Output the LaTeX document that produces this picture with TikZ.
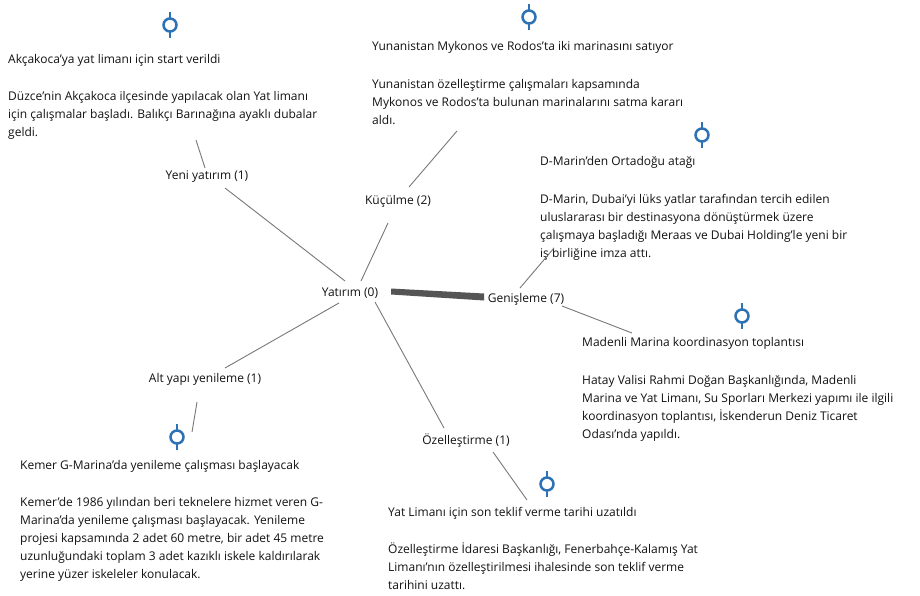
\documentclass[tikz,border=0pt]{standalone}
\usepackage{fontspec}
\setmainfont{Open Sans}
\usetikzlibrary{calc}

\definecolor{ink}{RGB}{18,18,18}
\definecolor{wire}{RGB}{120,120,120}
\definecolor{pinblue}{RGB}{46,114,182}
\definecolor{band}{RGB}{85,85,85}

% several lines stacked, baseline at the first line
\newcommand{\stack}[1]{\begin{tabular}[t]{@{}l@{}}#1\end{tabular}}

\tikzset{
  txt/.style={anchor=base west, inner sep=0pt, text=ink,
    font=\fontsize{12}{18}\selectfont},
  cat/.style={inner sep=0pt, text=ink, font=\fontsize{12}{18}\selectfont},
  wirestyle/.style={draw=wire, line width=0.9pt},
  pinline/.style={draw=pinblue, line width=2.5pt},
}
% event marker: a short vertical stem with a hollow ring
\newcommand{\eventpin}[2]{%
  \coordinate (#1) at (#2);
  \draw[pinline] ($(#1)+(0,-13)$) -- ($(#1)+(0,-6.5)$);
  \draw[pinline] ($(#1)+(0,6.5)$) -- ($(#1)+(0,13)$);
  \draw[pinline] (#1) circle[radius=6.5];
}

\begin{document}
\begin{tikzpicture}[x=1pt, y=-1pt]
\useasboundingbox[fill=white] (0,0) rectangle (920,595);

% ---- event pins ----
\eventpin{pinA}{170,25}
\eventpin{pinB}{529,17}
\eventpin{pinC}{702,135}
\eventpin{pinD}{742,316}
\eventpin{pinE}{177,437}
\eventpin{pinF}{547,484}

% ---- news items ----
\node[txt] (titleA) at (8,63) {Akçakoca'ya yat limanı için start verildi};
\node[txt] (bodyA) at (8,100) {\stack{Düzce'nin Akçakoca ilçesinde yapılacak olan Yat limanı\\
  için çalışmalar başladı. Balıkçı Barınağına ayaklı dubalar\\ geldi.}};

\node[txt] (titleB) at (372,50) {Yunanistan Mykonos ve Rodos'ta iki marinasını satıyor};
\node[txt] (bodyB) at (372,88) {\stack{Yunanistan özelleştirme çalışmaları kapsamında\\
  Mykonos ve Rodos'ta bulunan marinalarını satma kararı\\ aldı.}};

\node[txt] (titleC) at (540,165) {D-Marin'den Ortadoğu atağı};
\node[txt] (bodyC) at (540,203) {\stack{D-Marin, Dubai'yi lüks yatlar tarafından tercih edilen\\
  uluslararası bir destinasyona dönüştürmek üzere\\
  çalışmaya başladığı Meraas ve Dubai Holding'le yeni bir\\
  iş birliğine imza attı.}};

\node[txt] (titleD) at (582,346) {Madenli Marina koordinasyon toplantısı};
\node[txt] (bodyD) at (582,384) {\stack{Hatay Valisi Rahmi Doğan Başkanlığında, Madenli\\
  Marina ve Yat Limanı, Su Sporları Merkezi yapımı ile ilgili\\
  koordinasyon toplantısı, İskenderun Deniz Ticaret\\
  Odası'nda yapıldı.}};

\node[txt] (titleE) at (20,469) {Kemer G-Marina'da yenileme çalışması başlayacak};
\node[txt] (bodyE) at (20,506) {\stack{Kemer'de 1986 yılından beri teknelere hizmet veren G-\\
  Marina'da yenileme çalışması başlayacak. Yenileme\\
  projesi kapsamında 2 adet 60 metre, bir adet 45 metre\\
  uzunluğundaki toplam 3 adet kazıklı iskele kaldırılarak\\
  yerine yüzer iskeleler konulacak.}};

\node[txt] (titleF) at (388,516) {Yat Limanı için son teklif verme tarihi uzatıldı};
\node[txt] (bodyF) at (388,553) {\stack{Özelleştirme İdaresi Başkanlığı, Fenerbahçe-Kalamış Yat\\
  Limanı'nın özelleştirilmesi ihalesinde son teklif verme\\
  tarihini uzattı.}};

% ---- category labels ----
\node[cat] (root)  at (350,293) {Yatırım (0)};
\node[cat] (yeni)  at (207,177) {Yeni yatırım (1)};
\node[cat] (kucul) at (398,201) {Küçülme (2)};
\node[cat] (genis) at (526,299) {Genişleme (7)};
\node[cat] (alt)   at (205,379) {Alt yapı yenileme (1)};
\node[cat] (ozel)  at (466,441) {Özelleştirme (1)};

% ---- connector end points ----
\coordinate (yeniN) at (205,168);  \coordinate (aEnd) at (196,140);
\coordinate (yeniS) at (225,188);  \coordinate (rootNW) at (345,281);
\coordinate (kuculS) at (388,223); \coordinate (rootN) at (361,281);
\coordinate (kuculN) at (409,187); \coordinate (bEnd) at (457,131);
\coordinate (rootSW) at (339,303); \coordinate (altN) at (225,368);
\coordinate (altS) at (197,402);   \coordinate (eEnd) at (192,432);
\coordinate (rootS) at (375,302);  \coordinate (ozelN) at (444,428);
\coordinate (ozelS) at (493,452);  \coordinate (fEnd) at (527,500);
\coordinate (genisSE) at (562,306); \coordinate (dEnd) at (632,333);
\coordinate (genisN) at (520,288); \coordinate (cEnd) at (554,248);

% ---- connectors ----
\draw[wirestyle] (yeniN) -- (aEnd);
\draw[wirestyle] (yeniS) -- (rootNW);
\draw[wirestyle] (kuculS) -- (rootN);
\draw[wirestyle] (kuculN) -- (bEnd);
\draw[wirestyle] (rootSW) -- (altN);
\draw[wirestyle] (altS) -- (eEnd);
\draw[wirestyle] (rootS) -- (ozelN);
\draw[wirestyle] (ozelS) -- (fEnd);
\draw[wirestyle] (genisSE) -- (dEnd);
\draw[wirestyle] (genisN) -- (cEnd);

% heavy link between the root and its largest branch
\coordinate (bandL) at (391,291.5);
\coordinate (bandR) at (484,297);
\fill[band] ($(bandL)+(0,-3)$) -- ($(bandR)+(0,-3.5)$) -- ($(bandR)+(0,3.5)$) -- ($(bandL)+(0,3)$) -- cycle;
\end{tikzpicture}
\end{document}
